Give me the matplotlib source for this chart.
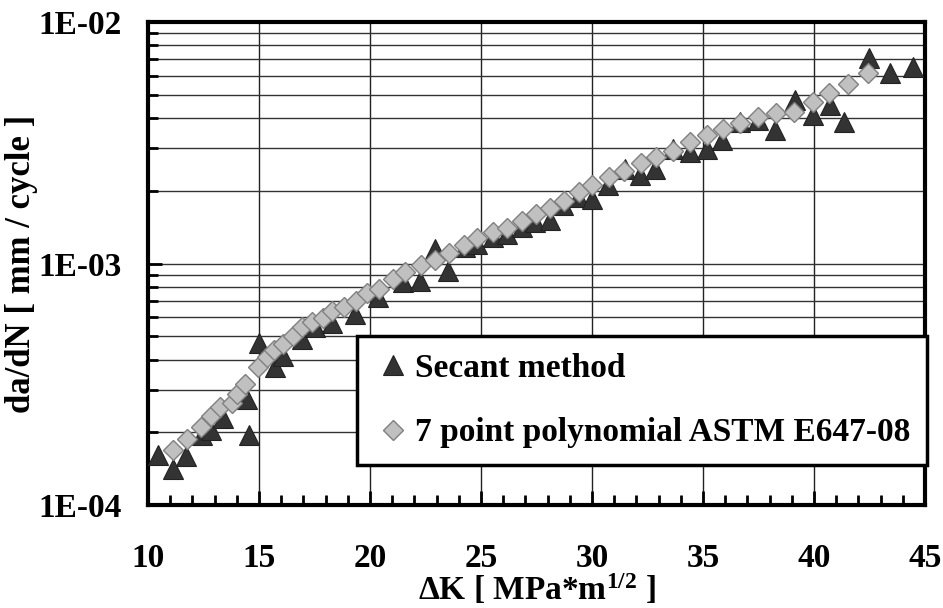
import matplotlib
matplotlib.use('Agg')
import matplotlib.pyplot as plt
import numpy as np
from matplotlib.ticker import LogLocator, FuncFormatter, MultipleLocator

# Secant method (triangles)
secant_dk = [10.46, 11.14, 11.71, 12.42, 12.84, 13.36, 14.47, 14.56, 15.01, 15.72,
             16.09, 16.92, 17.52, 18.30, 19.32, 20.37, 21.50, 22.25, 22.93, 23.53,
             24.28, 24.81, 25.55, 26.16, 26.83, 27.43, 28.11, 28.71, 29.38, 29.99,
             30.73, 31.49, 32.16, 32.84, 33.66, 34.41, 35.17, 35.84, 36.67, 37.49,
             38.24, 39.14, 39.97, 40.72, 41.35, 42.49, 43.42, 44.45]
secant_dadn = [1.62e-4, 1.41e-4, 1.60e-4, 1.96e-4, 2.05e-4, 2.30e-4, 2.75e-4, 1.96e-4, 4.71e-4, 3.75e-4,
               4.15e-4, 4.87e-4, 5.48e-4, 5.65e-4, 6.18e-4, 7.24e-4, 8.36e-4, 8.49e-4, 1.15e-3, 9.35e-4,
               1.17e-3, 1.20e-3, 1.29e-3, 1.33e-3, 1.42e-3, 1.48e-3, 1.52e-3, 1.74e-3, 1.88e-3, 1.85e-3,
               2.11e-3, 2.47e-3, 2.32e-3, 2.47e-3, 2.99e-3, 2.90e-3, 2.99e-3, 3.24e-3, 3.86e-3, 3.92e-3,
               3.56e-3, 4.74e-3, 4.11e-3, 4.53e-3, 3.86e-3, 7.07e-3, 6.12e-3, 6.53e-3]

# 7 point polynomial ASTM E647-08 (diamonds)
poly_dk = [11.11, 11.77, 12.39, 12.84, 13.24, 13.77, 14.02, 14.37, 14.97, 15.35,
           15.68, 16.07, 16.52, 16.92, 17.37, 17.87, 18.30, 18.84, 19.36, 19.88,
           20.42, 21.05, 21.58, 22.28, 22.93, 23.56, 24.23, 24.83, 25.53, 26.16,
           26.83, 27.48, 28.11, 28.74, 29.41, 30.01, 30.78, 31.46, 32.21, 32.88,
           33.66, 34.41, 35.17, 35.89, 36.67, 37.49, 38.29, 39.10, 39.97, 40.69,
           41.55, 42.45]
poly_dadn = [1.69e-4, 1.88e-4, 2.11e-4, 2.34e-4, 2.54e-4, 2.66e-4, 2.88e-4, 3.18e-4, 3.72e-4, 4.09e-4,
             4.38e-4, 4.64e-4, 5.03e-4, 5.44e-4, 5.71e-4, 5.98e-4, 6.38e-4, 6.63e-4, 7.02e-4, 7.53e-4,
             7.85e-4, 8.64e-4, 9.20e-4, 9.82e-4, 1.03e-3, 1.11e-3, 1.19e-3, 1.27e-3, 1.35e-3, 1.41e-3,
             1.50e-3, 1.60e-3, 1.69e-3, 1.82e-3, 1.98e-3, 2.11e-3, 2.28e-3, 2.42e-3, 2.60e-3, 2.76e-3,
             2.92e-3, 3.19e-3, 3.40e-3, 3.59e-3, 3.80e-3, 4.05e-3, 4.21e-3, 4.25e-3, 4.67e-3, 5.06e-3,
             5.51e-3, 6.12e-3]

plt.rcParams['font.family'] = 'Liberation Serif'
plt.rcParams['font.weight'] = 'bold'
plt.rcParams['mathtext.fontset'] = 'custom'
plt.rcParams['mathtext.rm'] = 'Liberation Serif:bold'
plt.rcParams['mathtext.bf'] = 'Liberation Serif:bold'
plt.rcParams['mathtext.it'] = 'Liberation Serif:bold'

fig = plt.figure(figsize=(9.43, 6.08), dpi=100)
ax = fig.add_axes([0.157, 0.169, 0.824, 0.795])

ax.plot(secant_dk, secant_dadn, linestyle='none', marker='^', markersize=14,
        markerfacecolor='#333333', markeredgecolor='#222222', markeredgewidth=0.8,
        label='Secant method', zorder=3)
ax.plot(poly_dk, poly_dadn, linestyle='none', marker='D', markersize=10.5,
        markerfacecolor='#c0c0c0', markeredgecolor='#808080', markeredgewidth=1.0,
        label='7 point polynomial ASTM E647-08', zorder=4)

ax.set_yscale('log')
ax.set_xlim(10, 45)
ax.set_ylim(1e-4, 1e-2)

ax.xaxis.set_major_locator(MultipleLocator(5))
ax.xaxis.set_minor_locator(MultipleLocator(1))
ax.yaxis.set_major_locator(LogLocator(base=10))
ax.yaxis.set_minor_locator(LogLocator(base=10, subs=np.arange(2, 10)))
ax.yaxis.set_major_formatter(FuncFormatter(lambda v, p: '1E-%02d' % round(-np.log10(v))))
ax.yaxis.set_minor_formatter(FuncFormatter(lambda v, p: ''))

ax.grid(True, which='major', axis='x', color='#222222', linewidth=1.0)
ax.grid(True, which='both', axis='y', color='#333333', linewidth=1.0)
ax.set_axisbelow(True)

ax.tick_params(axis='both', which='both', direction='in', top=False, right=False)
ax.tick_params(axis='both', which='major', length=10, width=2, labelsize=24)
ax.tick_params(axis='both', which='minor', length=7, width=2)
ax.tick_params(axis='x', which='major', pad=27)
ax.tick_params(axis='y', which='major', pad=19)

for s in ax.spines.values():
    s.set_linewidth(3)
    s.set_color('black')

ax.set_xlabel('ΔK [ MPa*m$^{1/2}$ ]', fontsize=24, fontweight='bold', labelpad=-1)
ax.set_ylabel('da/dN [ mm / cycle ]', fontsize=25, fontweight='bold', labelpad=0)

leg = ax.legend(loc='lower left', bbox_to_anchor=(0.269, 0.083), fontsize=24,
                frameon=True, fancybox=False, edgecolor='black', framealpha=1,
                labelspacing=1.0, borderpad=0.5, handletextpad=0.1, handlelength=1.15,
                borderaxespad=0)
leg.get_frame().set_linewidth(2.5)

fig.savefig('out.png', dpi=100)
